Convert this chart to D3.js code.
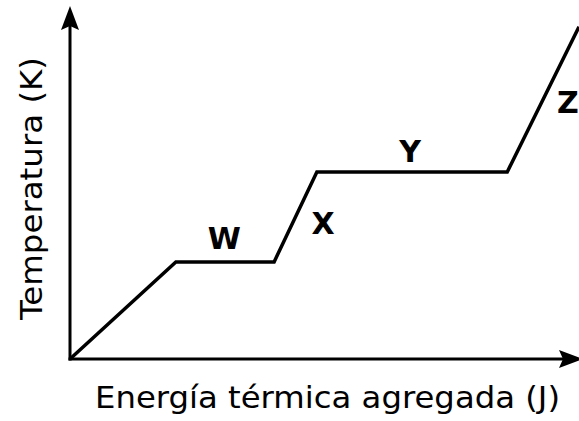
<!DOCTYPE html>
<html>
<head>
<meta charset="utf-8">
<script src="https://cdn.jsdelivr.net/npm/d3@7"></script>
<style>
  body { margin: 0; background: #fff; }
  svg { display: block; }
  text { font-family: "DejaVu Sans", Verdana, sans-serif; fill: #000; }
</style>
</head>
<body>
<svg id="chart"></svg>
<script>
// energy added (arbitrary units, 0-100) and temperature (arbitrary units, 0-100)
var energy = [0, 20.8, 40.1, 48.5, 85.9, 100];
var temperature = [0, 27.5, 27.5, 53.0, 53.0, 94.1];

// phase labels and where they sit
var phaseNames = ["W", "X", "Y", "Z"];
var phaseEnergy = [30.3, 49.7, 66.8, 97.8];
var phaseTemp = [31.2, 35.4, 55.8, 69.7];

var xTitle = "Energía térmica agregada (J)";
var yTitle = "Temperatura (K)";

var W = 579, H = 421;
var origin = { x: 70, y: 359 };

var x = d3.scaleLinear().domain([0, 100]).range([origin.x, 579]);
var y = d3.scaleLinear().domain([0, 100]).range([origin.y, 6]);

var svg = d3.select("#chart")
  .attr("width", W)
  .attr("height", H);

// axes
svg.append("line")
  .attr("x1", origin.x).attr("y1", origin.y + 1.5)
  .attr("x2", origin.x).attr("y2", 26)
  .attr("stroke", "#000")
  .attr("stroke-width", 3);

svg.append("line")
  .attr("x1", origin.x - 1.5).attr("y1", origin.y)
  .attr("x2", 566).attr("y2", origin.y)
  .attr("stroke", "#000")
  .attr("stroke-width", 3);

// arrow heads
function arrowHead(tx, ty, angle) {
  svg.append("path")
    .attr("d", "M0,0 L-24,-9 L-20,0 L-24,9 Z")
    .attr("transform", "translate(" + tx + "," + ty + ") rotate(" + angle + ")")
    .attr("fill", "#000");
}
arrowHead(origin.x, 6, -90);
arrowHead(583, origin.y, 0);

// heating curve
var line = d3.line()
  .x(function (d) { return x(d[0]); })
  .y(function (d) { return y(d[1]); });

svg.append("path")
  .datum(d3.zip(energy, temperature))
  .attr("d", line)
  .attr("fill", "none")
  .attr("stroke", "#000")
  .attr("stroke-width", 3.5)
  .attr("stroke-linejoin", "miter");

// phase labels
svg.selectAll(".phase")
  .data(phaseNames)
  .enter().append("text")
  .attr("class", "phase")
  .attr("x", function (d, i) { return x(phaseEnergy[i]); })
  .attr("y", function (d, i) { return y(phaseTemp[i]); })
  .attr("text-anchor", "middle")
  .style("font-size", "30px")
  .style("font-weight", "bold")
  .text(function (d) { return d; });

// axis titles (stretched a little, the original face is wider)
svg.append("text")
  .attr("x", 95)
  .attr("y", 408)
  .attr("textLength", 465)
  .attr("lengthAdjust", "spacingAndGlyphs")
  .style("font-size", "31px")
  .text(xTitle);

svg.append("text")
  .attr("transform", "translate(42,320) rotate(-90)")
  .attr("textLength", 263)
  .attr("lengthAdjust", "spacingAndGlyphs")
  .style("font-size", "31px")
  .text(yTitle);
</script>
</body>
</html>
